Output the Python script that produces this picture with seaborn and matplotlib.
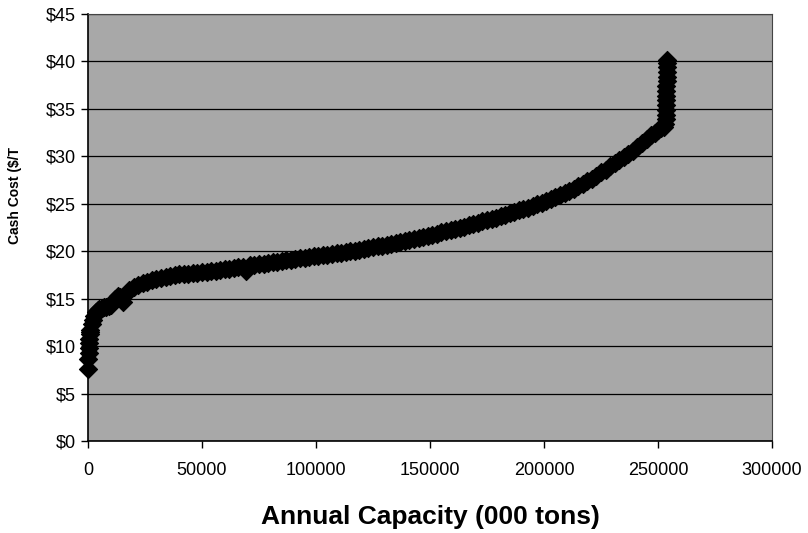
import matplotlib
matplotlib.use("Agg")
import matplotlib.pyplot as plt
from matplotlib.ticker import FuncFormatter
import seaborn as sns
import pandas as pd

# Cumulative annual capacity (000 tons) at each operation, sorted by cash cost
capacity_kt = [
    0, 200, 300, 400, 500, 600, 700, 900, 1000, 1600, 2200, 2800, 3500, 4200,
    5000, 6000, 7000, 8000, 9000, 10000, 11000, 12000, 13000, 14000, 15500,
    16500, 18000, 20000, 22000, 24000, 26000, 28000, 30000, 32000, 34000,
    36000, 38000, 40000, 42000, 44000, 46000, 48000, 50000, 52000, 54000,
    56000, 58000, 60000, 62000, 64000, 66000, 68000, 69500, 71000, 73000,
    75000, 77000, 79000, 81000, 83000, 85000, 87000, 89000, 91000, 93000,
    95000, 97000, 99000, 101000, 103000, 105000, 107000, 109000, 111000,
    113000, 115000, 117000, 119000, 121000, 123000, 125000, 127000, 129000,
    131000, 133000, 135000, 137000, 139000, 141000, 143000, 145000, 147000,
    149000, 151000, 153000, 155000, 157000, 159000, 161000, 163000, 165000,
    167000, 169000, 171000, 173000, 175000, 177000, 179000, 181000, 183000,
    185000, 187000, 189000, 191000, 193000, 195000, 197000, 199000, 201000,
    203000, 205000, 207000, 209000, 211000, 213000, 215000, 217000, 219000,
    221000, 223000, 225000, 227000, 229000, 231000, 233000, 235000, 237000,
    239000, 241000, 243000, 245000, 247000, 248500, 250000, 251500, 252800,
    253200, 253400, 253500, 253500, 253600, 253600, 253700, 253700, 253700,
    253800, 253800, 253800, 253800, 253800, 253800,
]

# Cash cost per ton (US$) for each operation
cash_cost = [
    7.6, 8.6, 9.3, 9.8, 10.3, 10.8, 11.3, 11.5, 11.7, 12.3, 12.8, 13.2, 13.6, 13.8,
    13.9, 14.0, 14.1, 14.1, 14.2, 14.3, 14.6, 15.0, 15.3, 15.2, 14.7,
    15.5, 15.9, 16.2, 16.4, 16.6, 16.8, 17.0, 17.1, 17.2, 17.3,
    17.4, 17.5, 17.55, 17.6, 17.65, 17.7, 17.75, 17.8, 17.85, 17.9,
    17.95, 18.0, 18.1, 18.15, 18.2, 18.3, 18.3, 17.9, 18.5, 18.6,
    18.65, 18.7, 18.8, 18.85, 18.9, 19.0, 19.05, 19.1, 19.2, 19.25,
    19.3, 19.4, 19.45, 19.5, 19.6, 19.65, 19.7, 19.8, 19.85,
    19.9, 20.0, 20.05, 20.1, 20.2, 20.3, 20.4, 20.5, 20.6,
    20.65, 20.75, 20.85, 20.95, 21.05, 21.15, 21.25, 21.35, 21.5,
    21.6, 21.75, 21.85, 22.0, 22.1, 22.2, 22.35, 22.45, 22.6,
    22.75, 22.9, 23.0, 23.15, 23.3, 23.4, 23.55, 23.7, 23.85,
    24.0, 24.15, 24.3, 24.45, 24.6, 24.8, 24.95, 25.1, 25.3,
    25.5, 25.7, 25.9, 26.1, 26.35, 26.6, 26.85, 27.1, 27.4,
    27.65, 27.95, 28.3, 28.6, 28.95, 29.3, 29.6, 29.9, 30.2,
    30.6, 31.0, 31.4, 31.8, 32.2, 32.5, 32.8, 33.0, 33.1,
    33.4, 33.9, 34.4, 34.9, 35.4, 35.9, 36.4, 36.9, 37.4,
    37.9, 38.4, 38.9, 39.4, 39.8, 40.2,
]

x_ticks = [0, 50000, 100000, 150000, 200000, 250000, 300000]
y_ticks = [0, 5, 10, 15, 20, 25, 30, 35, 40, 45]

df = pd.DataFrame({"capacity": capacity_kt, "cost": cash_cost})

sns.set_style("ticks")
plt.rcParams["font.family"] = ["Liberation Sans", "DejaVu Sans"]
plt.rcParams["text.color"] = "black"

fig = plt.figure(figsize=(8.08, 5.33), dpi=100)
ax = fig.add_axes([88 / 808, 92 / 533, 684 / 808, 427 / 533])
ax.set_facecolor("#a8a8a8")

sns.scatterplot(
    data=df, x="capacity", y="cost", ax=ax,
    marker="D", s=85, color="black", edgecolor="black", linewidth=0.8,
    legend=False, zorder=3, clip_on=False,
)

ax.set_xlim(0, 300000)
ax.set_ylim(0, 45)
ax.set_xticks(x_ticks)
ax.set_yticks(y_ticks)
ax.xaxis.set_major_formatter(FuncFormatter(lambda v, p: f"{int(v)}"))
ax.yaxis.set_major_formatter(FuncFormatter(lambda v, p: rf"\${int(v)}"))

ax.grid(axis="y", color="black", linewidth=0.9, zorder=1)
ax.grid(axis="x", visible=False)
ax.set_axisbelow(True)

for side in ("left", "bottom"):
    ax.spines[side].set_color("black")
    ax.spines[side].set_linewidth(1.2)
for side in ("top", "right"):
    ax.spines[side].set_visible(True)
    ax.spines[side].set_color("#444444")
    ax.spines[side].set_linewidth(0.8)

ax.tick_params(axis="both", direction="out", length=5, width=1.0,
               color="black", labelsize=13, labelcolor="black")
ax.tick_params(axis="y", pad=4)
ax.tick_params(axis="x", pad=10)

ax.set_xlabel("")
ax.set_ylabel("")
fig.text(430 / 808, 1 - 517 / 533, "Annual Capacity (000 tons)",
         ha="center", va="center", fontsize=19, fontweight="bold", color="black")
fig.text(15 / 808, 1 - 196 / 533, r"Cash Cost (\$/T",
         ha="center", va="center", rotation=90, fontsize=10, fontweight="bold",
         color="black")

fig.savefig("out.png", dpi=100, facecolor="white")
